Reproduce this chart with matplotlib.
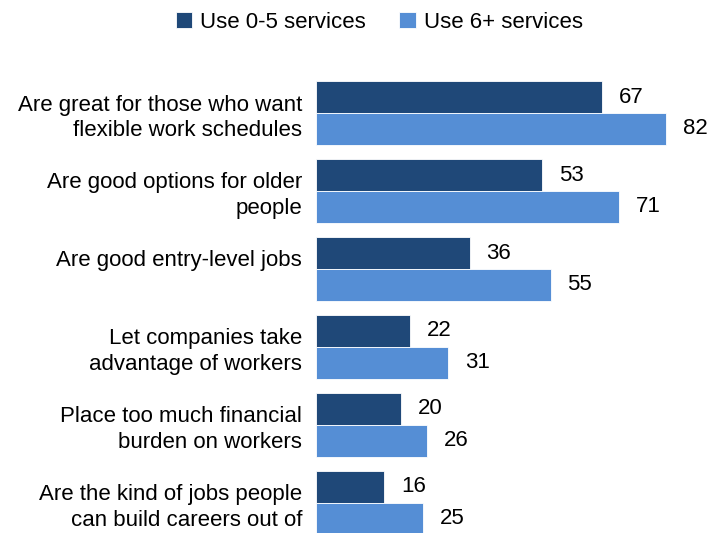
import matplotlib
matplotlib.use('Agg')
import matplotlib.pyplot as plt
import numpy as np

plt.rcParams['font.family'] = ['Liberation Sans', 'DejaVu Sans']

categories = [
    "Are great for those who want\nflexible work schedules",
    "Are good options for older\npeople",
    "Are good entry-level jobs\n",
    "Let companies take\nadvantage of workers",
    "Place too much financial\nburden on workers",
    "Are the kind of jobs people\ncan build careers out of",
]
low_use = [67, 53, 36, 22, 20, 16]
high_use = [82, 71, 55, 31, 26, 25]
series_names = ["Use 0-5 services", "Use 6+ services"]

dark = '#1f4878'
light = '#558ed5'
fs = 16

fig = plt.figure(figsize=(7.14, 5.33), dpi=100)
ax = fig.add_axes([316 / 714, 0, 427 / 714, 493 / 533])

y = np.arange(len(categories))
h = 0.41
b1 = ax.barh(y - h / 2, low_use, height=h, color=dark, edgecolor='white', lw=0.6,
             label=series_names[0])
b2 = ax.barh(y + h / 2, high_use, height=h, color=light, edgecolor='white', lw=0.6,
             label=series_names[1])

for bars, vals in ((b1, low_use), (b2, high_use)):
    for bar, v in zip(bars, vals):
        ax.annotate(str(v), (v, bar.get_y() + bar.get_height() / 2),
                    xytext=(12, 0), textcoords='offset points',
                    ha='left', va='center', fontsize=fs, color='black')

ax.set_xlim(0, 100)
ax.set_ylim(5.385, -0.936)
ax.set_yticks(y)
ax.set_yticklabels(categories, fontsize=fs, linespacing=1.3)
ax.tick_params(axis='y', length=0, pad=10)
ax.set_xticks([])
for s in ax.spines.values():
    s.set_visible(False)

fig.legend(handles=[b1, b2], labels=series_names, loc='upper center',
           bbox_to_anchor=(0.531, 1.015), ncol=2, frameon=False, fontsize=fs,
           handlelength=0.75, handleheight=0.75, handletextpad=0.35,
           columnspacing=1.5)

fig.savefig('out.png', dpi=100, facecolor='white')
